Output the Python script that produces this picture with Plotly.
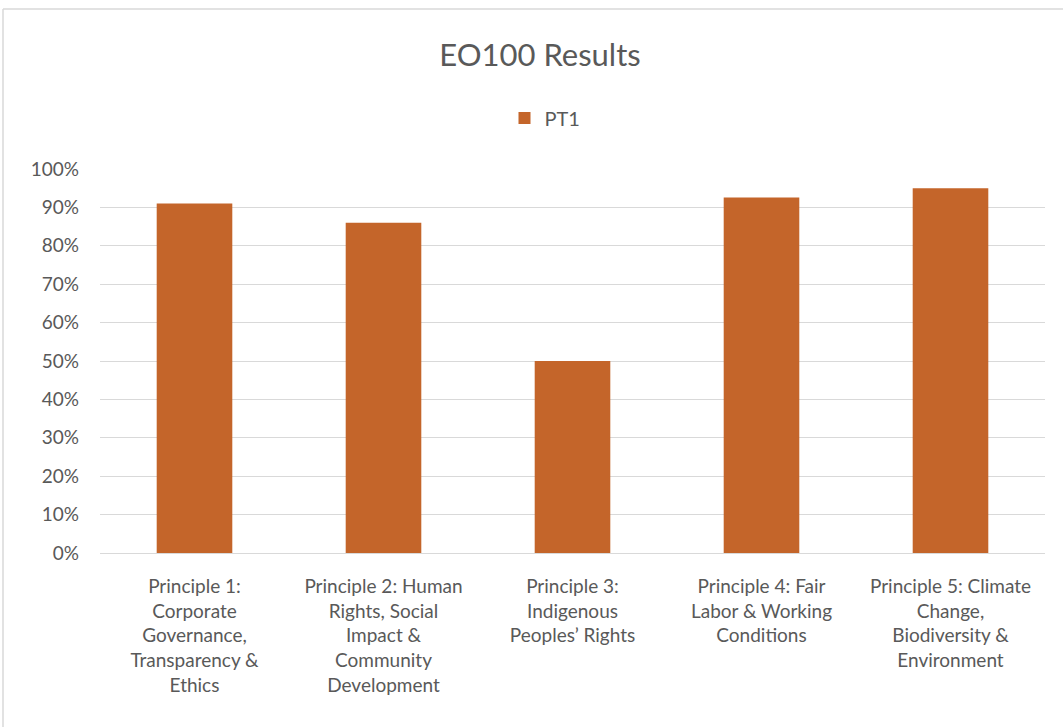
import plotly.graph_objects as go

categories = [
    "Principle 1:<br>Corporate<br>Governance,<br>Transparency &<br>Ethics",
    "Principle 2: Human<br>Rights, Social<br>Impact &<br>Community<br>Development",
    "Principle 3:<br>Indigenous<br>Peoples’ Rights",
    "Principle 4: Fair<br>Labor & Working<br>Conditions",
    "Principle 5: Climate<br>Change,<br>Biodiversity &<br>Environment",
]
pt1 = [0.91, 0.86, 0.50, 0.926, 0.95]
series_name = "PT1"
title_text = "EO100 Results"

FONT = "Lato, 'Open Sans', sans-serif"
fig = go.Figure()
fig.add_trace(go.Bar(x=categories, y=pt1, name=series_name,
                     marker=dict(color="#C4652A", line=dict(width=0))))

W, H = 1063, 727
L, R, T, B = 100, 18, 169, 174
pw, ph = W - L - R, H - T - B

fig.update_layout(
    width=W, height=H,
    margin=dict(l=L, r=R, t=T, b=B),
    paper_bgcolor="white", plot_bgcolor="white",
    bargap=0.6,
    showlegend=True,
    title=dict(text=title_text, x=540 / W, xanchor="center", y=1 - 55 / H, yanchor="middle",
               font=dict(family=FONT, size=31, color="#595959")),
    legend=dict(orientation="h", x=(545 - L) / pw, xanchor="center", y=(H - B - 118) / ph,
                yanchor="middle", font=dict(family=FONT, size=20, color="#595959"),
                itemwidth=30),
    font=dict(family=FONT, size=19, color="#595959"),
    xaxis=dict(showgrid=False, showline=True, linecolor="#d9d9d9", linewidth=1,
               ticks="", tickfont=dict(size=19, color="#595959"), tickangle=0,
               ticklabelstandoff=16),
    yaxis=dict(range=[0, 1.0], dtick=0.1, tickformat=".0%", showgrid=True,
               gridcolor="#d9d9d9", gridwidth=1.2, zeroline=False, showline=False,
               ticks="", tickfont=dict(size=19, color="#595959"), ticklabelstandoff=20),
    shapes=[
        dict(type="line", xref="paper", yref="paper",
             x0=(3 - L) / pw, x1=(W + 5 - L) / pw, y0=(H - B - 9) / ph, y1=(H - B - 9) / ph,
             line=dict(color="#d9d9d9", width=1.5)),
        dict(type="line", xref="paper", yref="paper",
             x0=(3 - L) / pw, x1=(3 - L) / pw, y0=(H - B - 9) / ph, y1=-(B + 5) / ph,
             line=dict(color="#d9d9d9", width=1.5)),
    ],
)
fig.write_html("out.html", config={"displayModeBar": False},
               post_script="document.body.style.margin='0';")
